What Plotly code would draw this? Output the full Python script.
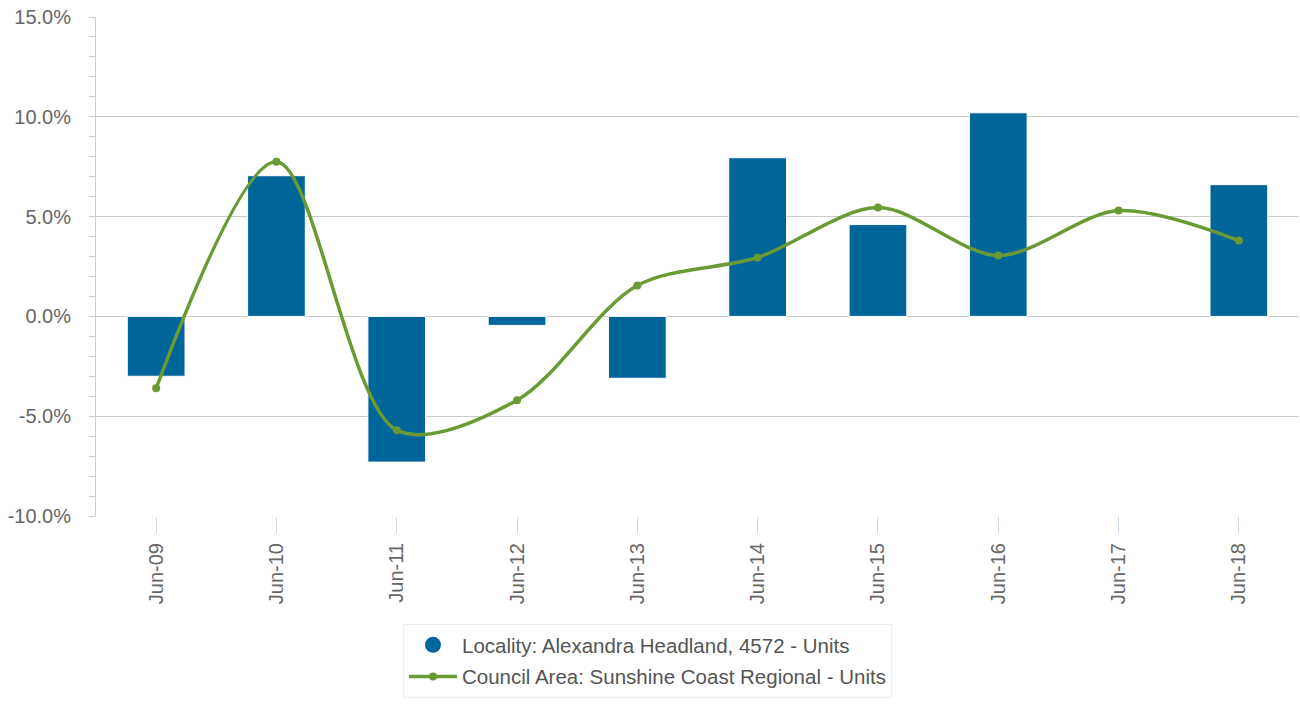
import plotly.graph_objects as go

categories = ["Jun-09", "Jun-10", "Jun-11", "Jun-12", "Jun-13", "Jun-14", "Jun-15", "Jun-16", "Jun-17", "Jun-18"]
locality_units = [-3.0, 7.05, -7.3, -0.45, -3.1, 7.95, 4.6, 10.2, None, 6.6]
council_units = [-3.6, 7.75, -5.7, -4.2, 1.55, 2.95, 5.45, 3.05, 5.3, 3.8]

y_tick_values = [-10, -5, 0, 5, 10, 15]
y_tick_labels = ["-10.0%", "-5.0%", "0.0%", "5.0%", "10.0%", "15.0%"]

bar_name = "Locality: Alexandra Headland, 4572 - Units"
line_name = "Council Area: Sunshine Coast Regional - Units"
bar_color = "#00669a"
line_color = "#6a9a34"

fig = go.Figure()
fig.add_trace(go.Bar(x=categories, y=locality_units, marker_color=bar_color,
                     marker_line=dict(color="white", width=1),
                     name=bar_name, showlegend=False))
fig.add_trace(go.Scatter(x=[categories[0]], y=[None], mode="markers",
                         marker=dict(symbol="circle", size=20, color=bar_color),
                         name=bar_name, legendgroup="a"))
fig.add_trace(go.Scatter(x=categories, y=council_units, mode="lines+markers",
                         line=dict(color=line_color, width=3.5, shape="spline", smoothing=0.9),
                         marker=dict(size=8, color=line_color), name=line_name,
                         legendgroup="b"))

font_family = "Liberation Sans, Arial, sans-serif"
fig.update_layout(
    width=1300, height=704,
    margin=dict(l=96, r=1, t=17, b=188, autoexpand=False),
    plot_bgcolor="white", paper_bgcolor="white",
    bargap=0.52,
    font=dict(family=font_family, color="#666666", size=20),
    xaxis=dict(type="category", range=[-0.5, len(categories) - 0.5],
               showgrid=False, ticks="outside", ticklen=16,
               tickcolor="#ccd6eb", tickangle=-90, showline=False, automargin=False,
               ticklabelstandoff=2,
               tickfont=dict(size=20, color="#666666")),
    yaxis=dict(range=[-10, 15], tickmode="array", tickvals=y_tick_values, ticktext=y_tick_labels,
               showgrid=True, gridcolor="#cccccc", gridwidth=1,
               zeroline=True, zerolinecolor="#cccccc", zerolinewidth=1,
               showline=True, linecolor="#cccccc", linewidth=1, automargin=False,
               ticks="outside", ticklen=6, tickcolor="#cccccc",
               ticklabelstandoff=14,
               minor=dict(dtick=1, ticks="outside", ticklen=6, tickcolor="#cccccc"),
               tickfont=dict(size=20, color="#666666")),
    legend=dict(xref="container", yref="container", x=403 / 1300, xanchor="left",
                y=1 - 624 / 704, yanchor="top",
                bordercolor="#eeeeee", borderwidth=1, bgcolor="white",
                font=dict(size=20.5, color="#555555"), tracegroupgap=2,
                itemwidth=48),
)
fig.write_html("out.html", config={"displayModeBar": False},
               post_script="document.body.style.margin='0';")
